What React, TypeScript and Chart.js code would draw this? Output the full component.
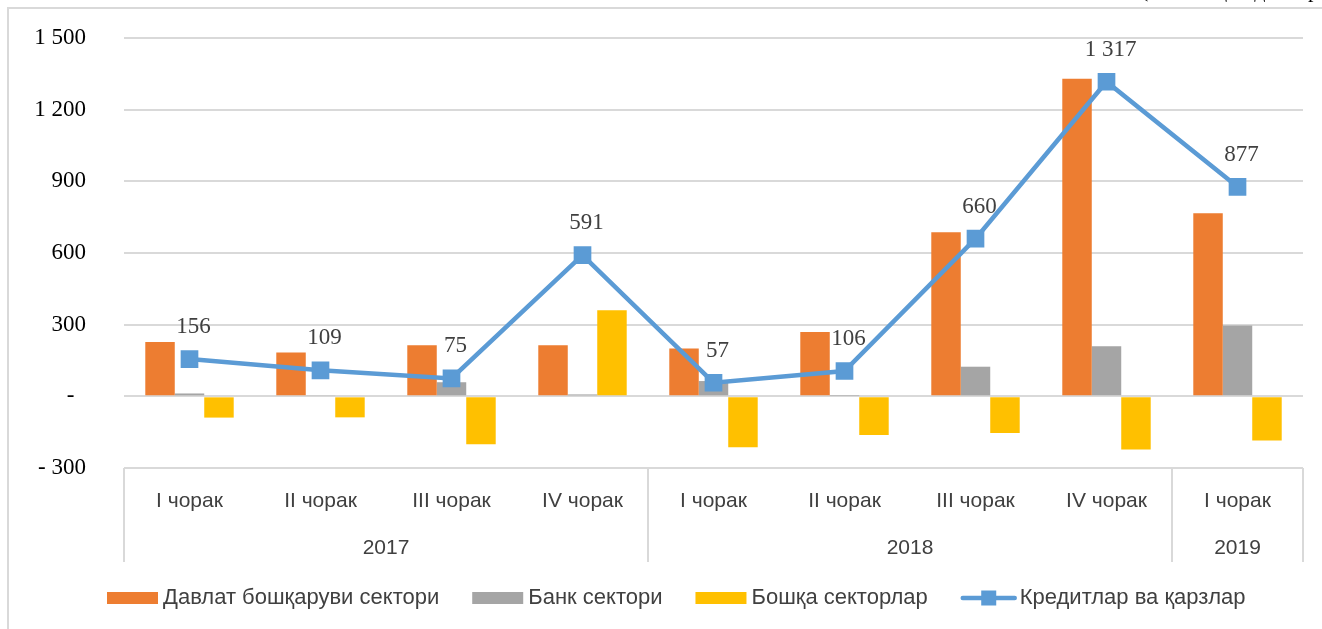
import React, { useEffect, useRef } from 'react';
import { Chart, registerables } from 'chart.js';

Chart.register(...registerables);

// ---- data ----
const quarterLabels = ['I чорак', 'II чорак', 'III чорак', 'IV чорак', 'I чорак', 'II чорак', 'III чорак', 'IV чорак', 'I чорак'];
const yearLabels = ['2017', '2018', '2019'];
const yearSpans = [4, 4, 1];

const govSector = [227, 183, 214, 214, 200, 269, 687, 1329, 766];
const bankSector = [12, 5, 59, 8, 64, 2, 124, 210, 296];
const otherSectors = [-89, -88, -201, 360, -213, -162, -153, -223, -185];
const credits = [156, 109, 75, 591, 57, 106, 660, 1317, 877];

const seriesNames = ['Давлат бошқаруви сектори', 'Банк сектори', 'Бошқа секторлар', 'Кредитлар ва қарзлар'];
const seriesColors = ['#ED7D31', '#A5A5A5', '#FFC000', '#5B9BD5'];

const Y_MIN = -300;
const Y_MAX = 1500;
const Y_STEP = 300;

const SERIF = '"Liberation Serif", "Times New Roman", serif';
const SANS = '"Liberation Sans", Arial, sans-serif';

const fmt = (n: number) => String(Math.round(n)).replace(/\B(?=(\d{3})+(?!\d))/g, ' ');

const tickLabel = (v: number) => {
  if (v === 0) return '-  ';
  if (v < 0) return '- ' + fmt(-v);
  return fmt(v);
};

// ---- plugins ----
const dataLabelPlugin = {
  id: 'lineDataLabels',
  afterDatasetsDraw(chart: any) {
    const ctx = chart.ctx;
    chart.data.datasets.forEach((ds: any, i: number) => {
      if (ds.type !== 'line') return;
      const meta = chart.getDatasetMeta(i);
      ctx.save();
      ctx.font = `23px ${SERIF}`;
      ctx.fillStyle = '#404040';
      ctx.textAlign = 'center';
      ctx.textBaseline = 'middle';
      meta.data.forEach((pt: any, j: number) => {
        ctx.fillText(fmt(ds.data[j]), pt.x + 4, pt.y - 32);
      });
      ctx.restore();
    });
  },
};

const categoryBoxPlugin = {
  id: 'categoryBox',
  afterDraw(chart: any) {
    const ctx = chart.ctx;
    const x = chart.scales.x;
    const area = chart.chartArea;
    const bottom = area.bottom + 94;
    const half = (x.getPixelForValue(1) - x.getPixelForValue(0)) / 2;
    ctx.save();
    ctx.strokeStyle = '#D9D9D9';
    ctx.lineWidth = 2;
    const bounds: number[] = [area.left];
    let idx = 0;
    yearSpans.forEach((s) => {
      idx += s;
      bounds.push(x.getPixelForValue(idx - 1) + half);
    });
    bounds[bounds.length - 1] = area.right;
    bounds.forEach((bx) => {
      ctx.beginPath();
      ctx.moveTo(Math.round(bx), area.bottom);
      ctx.lineTo(Math.round(bx), bottom);
      ctx.stroke();
    });
    ctx.font = `21px ${SANS}`;
    ctx.fillStyle = '#404040';
    ctx.textAlign = 'center';
    ctx.textBaseline = 'middle';
    yearLabels.forEach((lbl, i) => {
      ctx.fillText(lbl, (bounds[i] + bounds[i + 1]) / 2, area.bottom + 80);
    });
    ctx.restore();
  },
};

const legendPlugin = {
  id: 'customLegend',
  afterDraw(chart: any) {
    const ctx = chart.ctx;
    const cy = 598;
    const boxW = 51;
    const boxH = 12;
    const lineW = 56;
    const textGap = 5;
    const itemGap = 33;
    ctx.save();
    ctx.font = `22px ${SANS}`;
    ctx.textBaseline = 'middle';
    ctx.textAlign = 'left';
    const items = chart.data.datasets.map((ds: any) => ({
      label: ds.label,
      color: ds.type === 'line' ? ds.borderColor : ds.backgroundColor,
      isLine: ds.type === 'line',
    }));
    items.sort((a: any, b: any) => (a.isLine ? 1 : 0) - (b.isLine ? 1 : 0));
    const widths = items.map((it: any) => (it.isLine ? lineW : boxW) + textGap + ctx.measureText(it.label).width);
    let cx = 107;
    items.forEach((it: any, i: number) => {
      if (it.isLine) {
        ctx.strokeStyle = it.color;
        ctx.lineWidth = 4.5;
        ctx.lineCap = 'round';
        ctx.beginPath();
        ctx.moveTo(cx + 2, cy);
        ctx.lineTo(cx + lineW - 2, cy);
        ctx.stroke();
        ctx.fillStyle = it.color;
        ctx.fillRect(cx + lineW / 2 - 7.5, cy - 7.5, 15, 15);
        ctx.fillStyle = '#404040';
        ctx.fillText(it.label, cx + lineW + textGap - 2, cy);
      } else {
        ctx.fillStyle = it.color;
        ctx.fillRect(cx, cy - boxH / 2, boxW, boxH);
        ctx.fillStyle = '#404040';
        ctx.fillText(it.label, cx + boxW + textGap, cy);
      }
      cx += widths[i] + itemGap;
    });
    ctx.restore();
  },
};

export default function App() {
  const canvasRef = useRef<HTMLCanvasElement | null>(null);

  useEffect(() => {
    if (!canvasRef.current) return;
    const chart = new Chart(canvasRef.current, {
      type: 'bar',
      data: {
        labels: quarterLabels,
        datasets: [
          {
            type: 'line',
            label: seriesNames[3],
            data: credits,
            borderColor: seriesColors[3],
            backgroundColor: seriesColors[3],
            borderWidth: 4.5,
            pointStyle: 'rect',
            pointRadius: 12.5,
            pointBorderWidth: 0,
            pointBackgroundColor: seriesColors[3],
            tension: 0,
            order: 0,
          } as any,
          {
            type: 'bar',
            label: seriesNames[0],
            data: govSector,
            backgroundColor: seriesColors[0],
            order: 1,
          },
          {
            type: 'bar',
            label: seriesNames[1],
            data: bankSector,
            backgroundColor: seriesColors[1],
            order: 1,
          },
          {
            type: 'bar',
            label: seriesNames[2],
            data: otherSectors,
            backgroundColor: seriesColors[2],
            order: 1,
          },
        ],
      },
      options: {
        animation: false,
        responsive: true,
        maintainAspectRatio: false,
        layout: { padding: { left: 0, right: 19, top: 38, bottom: 67 } },
        datasets: {
          bar: { categoryPercentage: 0.675, barPercentage: 1 },
        },
        plugins: {
          legend: { display: false },
          tooltip: { enabled: false },
        },
        scales: {
          x: {
            grid: { display: false, drawTicks: false },
            border: { display: false },
            ticks: {
              font: { family: SANS, size: 21 },
              color: '#404040',
              padding: 21,
              maxRotation: 0,
              autoSkip: false,
            },
            afterFit: (scale: any) => {
              scale.height = 94;
            },
          },
          y: {
            min: Y_MIN,
            max: Y_MAX,
            grid: { color: '#D9D9D9', lineWidth: 2, drawTicks: false },
            border: { display: false },
            ticks: {
              stepSize: Y_STEP,
              font: { family: SERIF, size: 23 },
              color: '#000000',
              padding: 38,
              callback: (v: any) => tickLabel(Number(v)),
            },
            afterFit: (scale: any) => {
              scale.width = 124;
              scale.paddingTop = 0;
              scale.paddingBottom = 0;
            },
          },
        },
      },
      plugins: [dataLabelPlugin, categoryBoxPlugin, legendPlugin],
    });
    return () => chart.destroy();
  }, []);

  return (
    <>
      <div
        style={{
          position: 'fixed',
          left: 0,
          top: -21,
          width: 1322,
          height: 24,
          overflow: 'hidden',
        }}
      >
        <div
          style={{
            position: 'absolute',
            left: 1141,
            top: 0,
            font: `22px ${SERIF}`,
            lineHeight: '22px',
            color: '#000',
            whiteSpace: 'nowrap',
          }}
        >
          (млн. АҚШ доллари)
        </div>
      </div>
      <div
        style={{
          position: 'fixed',
          left: 7,
          top: 7,
          width: 1330,
          height: 640,
          borderTop: '2px solid #D9D9D9',
          borderLeft: '2px solid #D9D9D9',
          boxSizing: 'border-box',
        }}
      />
      <div style={{ position: 'fixed', left: 0, top: 0, width: 1322, height: 629 }}>
        <canvas ref={canvasRef} />
      </div>
    </>
  );
}
